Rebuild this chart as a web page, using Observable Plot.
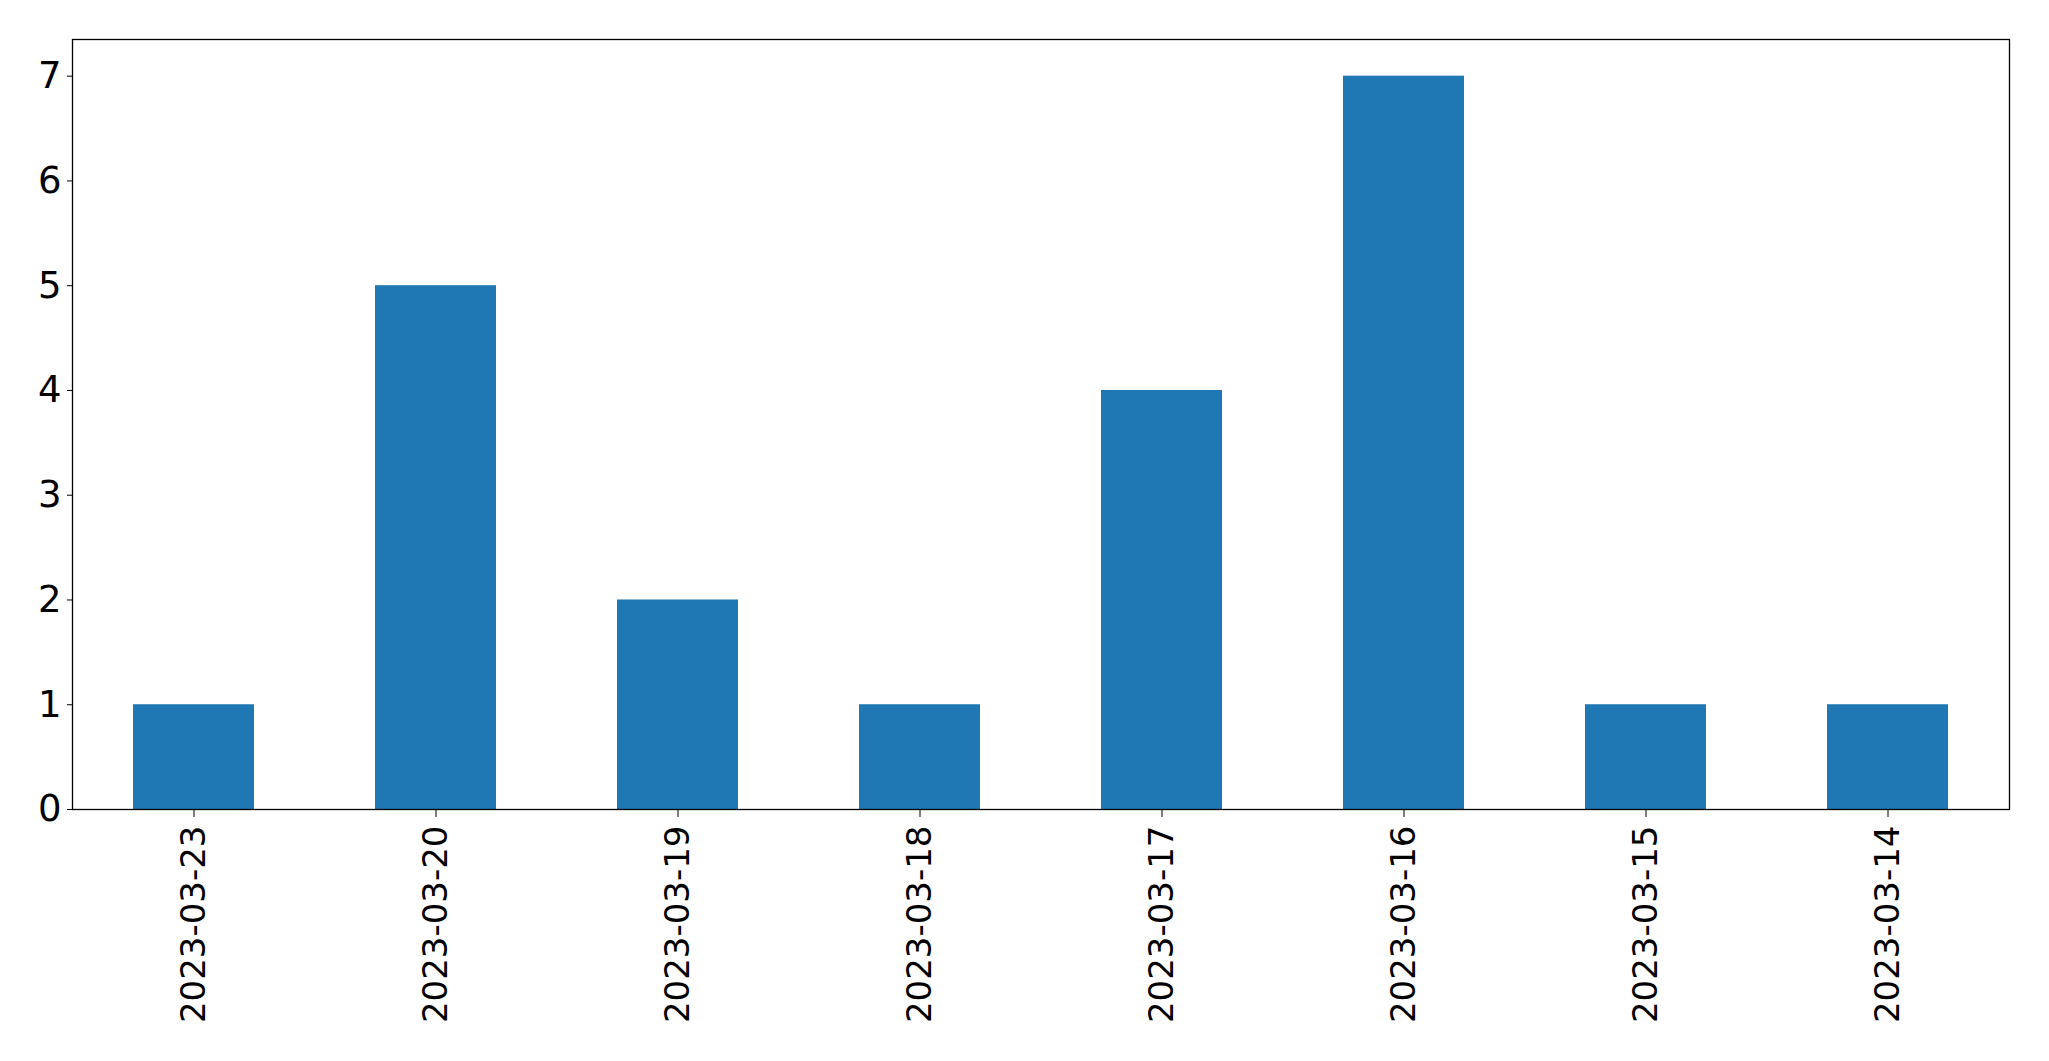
<!DOCTYPE html>
<html>
<head>
<meta charset="utf-8">
<script src="https://cdn.jsdelivr.net/npm/d3@7"></script>
<script src="https://cdn.jsdelivr.net/npm/@observablehq/plot@0.6"></script>
<style>
  html, body { margin: 0; padding: 0; background: #fff; }
</style>
</head>
<body>
<div id="chart"></div>
<script>
const dates = ["2023-03-23", "2023-03-20", "2023-03-19", "2023-03-18", "2023-03-17", "2023-03-16", "2023-03-15", "2023-03-14"];
const counts = [1, 5, 2, 1, 4, 7, 1, 1];
const yTicks = [0, 1, 2, 3, 4, 5, 6, 7];

const data = dates.map((d, i) => ({date: d, count: counts[i]}));

const chart = Plot.plot({
  width: 2049,
  height: 1061,
  marginLeft: 72,
  marginRight: 40,
  marginTop: 39,
  marginBottom: 252,
  style: {fontFamily: "DejaVu Sans", fontSize: "34px", color: "#000", background: "#fff"},
  x: {type: "band", domain: dates, paddingInner: 0.5, paddingOuter: 0.25, label: null},
  y: {domain: [0, 7.35], label: null},
  marks: [
    Plot.barY(data, {x: "date", y: "count", fill: "#1f77b4"}),
    Plot.axisY({ticks: yTicks, tickSize: 5, tickPadding: 6, tickFormat: d3.format("d"), fontSize: 37, label: null}),
    Plot.axisX({tickSize: 8, tickPadding: 8, tickRotate: -90, label: null}),
    Plot.frame({stroke: "#000", strokeWidth: 1.3})
  ]
});
document.getElementById("chart").appendChild(chart);
</script>
</body>
</html>
